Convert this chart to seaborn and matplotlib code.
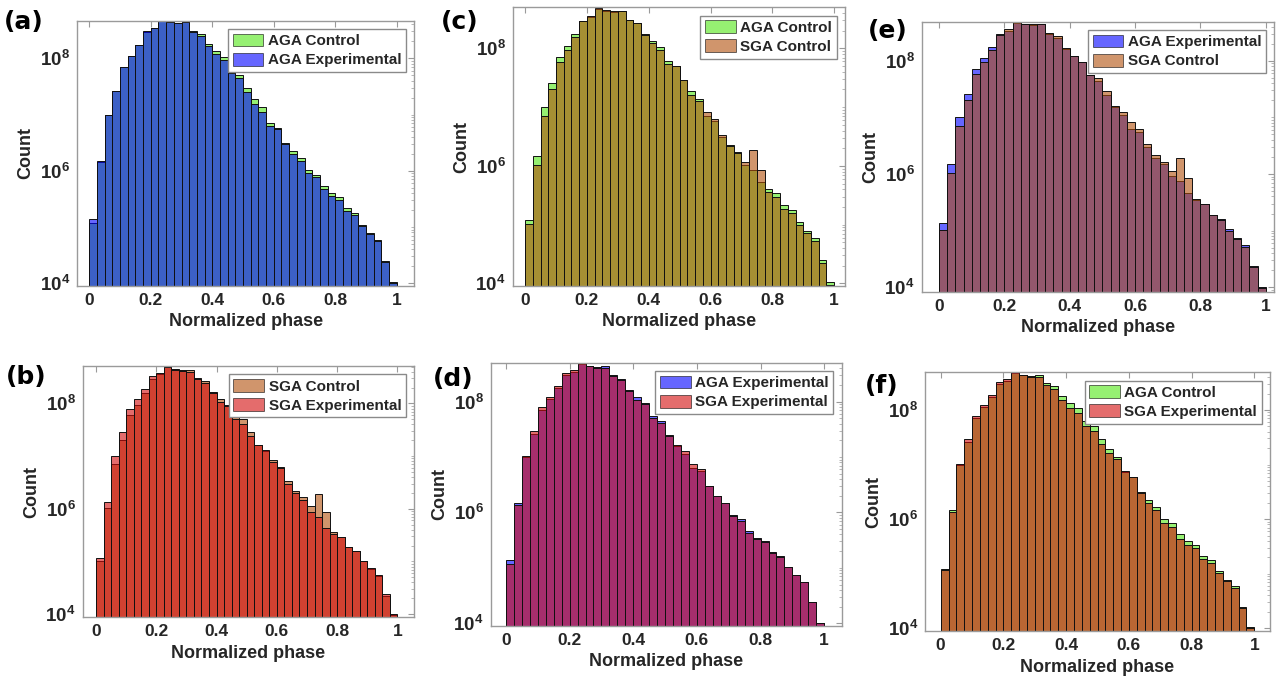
import numpy as np
import pandas as pd
import matplotlib
matplotlib.use("Agg")
import matplotlib.pyplot as plt
import matplotlib.ticker as mticker
from matplotlib.patches import Patch
import seaborn as sns

# ---------------- data ----------------
n_bins = 40                    # bins of width 0.025 over [0, 1]
bin_range = (0.0, 1.0)
x_ticks = [0, 0.2, 0.4, 0.6, 0.8, 1]
x_tick_labels = ["0", "0.2", "0.4", "0.6", "0.8", "1"]
y_ticks = [1e4, 1e6, 1e8]

aga_control = [1.2e5, 1.45e6, 1.0e7, 2.6e7, 7.1e7, 1.12e8, 1.74e8, 2.95e8, 3.4e8, 4.7e8,
               4.4e8, 4.2e8, 4.4e8, 3.1e8, 2.75e8, 1.78e8, 1.32e8, 1.07e8, 6.2e7, 5.0e7,
               2.95e7, 1.9e7, 1.35e7, 7.2e6, 5.8e6, 3.1e6, 2.25e6, 1.7e6, 1.02e6, 8.5e5,
               5.4e5, 4.0e5, 3.4e5, 2.15e5, 1.75e5, 1.1e5, 7.8e4, 5.9e4, 2.45e4, 1.05e4]

aga_experimental = [1.38e5, 1.5e6, 1.0e7, 2.6e7, 7.1e7, 1.12e8, 1.74e8, 3.0e8, 3.4e8, 4.7e8,
                    4.4e8, 4.2e8, 4.4e8, 2.95e8, 2.5e8, 1.62e8, 1.2e8, 9.5e7, 5.5e7, 4.4e7,
                    2.5e7, 1.55e7, 1.12e7, 6.3e6, 5.5e6, 2.95e6, 1.95e6, 1.48e6, 9.1e5, 7.6e5,
                    4.7e5, 3.5e5, 3.0e5, 1.9e5, 1.62e5, 1.05e5, 7.4e4, 5.6e4, 2.4e4, 1.02e4]

sga_control = [1.02e5, 1.05e6, 7.1e6, 2.0e7, 5.9e7, 9.5e7, 1.55e8, 2.9e8, 3.6e8, 4.9e8,
               4.5e8, 4.4e8, 4.4e8, 3.1e8, 2.7e8, 1.66e8, 1.23e8, 9.5e7, 5.5e7, 5.0e7,
               2.9e7, 1.62e7, 1.26e7, 8.3e6, 6.2e6, 3.4e6, 2.2e6, 1.66e6, 1.15e6, 1.9e6,
               8.5e5, 3.55e5, 2.9e5, 1.86e5, 1.55e5, 1.0e5, 7.1e4, 5.2e4, 2.25e4, 9.5e3]

sga_experimental = [1.15e5, 1.35e6, 1.02e7, 2.9e7, 7.8e7, 1.23e8, 1.9e8, 3.3e8, 3.7e8, 4.9e8,
                    4.3e8, 4.1e8, 4.0e8, 2.9e8, 2.4e8, 1.55e8, 1.07e8, 8.9e7, 5.0e7, 4.1e7,
                    2.4e7, 1.62e7, 1.29e7, 7.6e6, 6.0e6, 3.0e6, 2.0e6, 1.48e6, 8.5e5, 7.1e5,
                    4.3e5, 3.3e5, 2.9e5, 1.86e5, 1.58e5, 1.02e5, 7.4e4, 5.5e4, 2.4e4, 1.02e4]

series = {
    "AGA Control": aga_control,
    "AGA Experimental": aga_experimental,
    "SGA Control": sga_control,
    "SGA Experimental": sga_experimental,
}

# panel -> (bottom series, top series)
panels = [
    ("(a)", "AGA Control", "AGA Experimental"),
    ("(b)", "SGA Control", "SGA Experimental"),
    ("(c)", "AGA Control", "SGA Control"),
    ("(d)", "AGA Experimental", "SGA Experimental"),
    ("(e)", "AGA Experimental", "SGA Control"),
    ("(f)", "AGA Control", "SGA Experimental"),
]

# ---------------- styles / layout ----------------
colors = {
    "AGA Control": "#50E614",
    "AGA Experimental": "#0000FF",
    "SGA Control": "#B24E0A",
    "SGA Experimental": "#D20A0A",
}
ALPHA = 0.6
W, H = 1286, 685
# axes boxes in pixels: left, top, right, bottom
boxes = {
    "(a)": (77.3, 20.7, 414.3, 285.7),
    "(b)": (82.7, 366.0, 414.3, 617.3),
    "(c)": (512.7, 7.3, 845.0, 286.0),
    "(d)": (490.7, 362.7, 841.7, 625.7),
    "(e)": (921.7, 21.7, 1274.3, 291.7),
    "(f)": (925.0, 372.3, 1270.0, 631.0),
}
xlims = {
    "(a)": (-0.039, 1.057), "(b)": (-0.044, 1.056), "(c)": (-0.040, 1.035),
    "(d)": (-0.048, 1.055), "(e)": (-0.053, 1.026), "(f)": (-0.050, 1.050),
}
ylims = {
    "(a)": (3.957, 8.668), "(b)": (3.94, 8.71), "(c)": (3.955, 8.70),
    "(d)": (3.957, 8.70), "(e)": (3.92, 8.69), "(f)": (3.95, 8.69),
}
label_pos = {
    "(a)": (4, 10), "(b)": (6, 365), "(c)": (441, 10),
    "(d)": (433, 367), "(e)": (868, 19), "(f)": (865, 374),
}

sns.set_style("white")
plt.rcParams["font.family"] = ["Liberation Sans", "DejaVu Sans"]
plt.rcParams["font.weight"] = "bold"
plt.rcParams["axes.labelweight"] = "bold"
plt.rcParams["mathtext.fontset"] = "custom"
plt.rcParams["mathtext.bf"] = "Liberation Sans:bold"
plt.rcParams["mathtext.rm"] = "Liberation Sans:bold"
plt.rcParams["mathtext.it"] = "Liberation Sans:bold"

fig = plt.figure(figsize=(W / 100, H / 100), dpi=100)
fig.patch.set_facecolor("white")

edges = np.linspace(bin_range[0], bin_range[1], n_bins + 1)
centers = (edges[:-1] + edges[1:]) / 2
spine_col = "#9a9a9a"
text_col = "#262626"

for tag, s1, s2 in panels:
    l, t, r, b = boxes[tag]
    ax = fig.add_axes([l / W, 1 - b / H, (r - l) / W, (b - t) / H])
    for name in (s1, s2):
        df = pd.DataFrame({"phase": centers, "count": series[name]})
        sns.histplot(data=df, x="phase", weights="count", bins=n_bins,
                     binrange=bin_range, color=colors[name], alpha=ALPHA,
                     edgecolor="#111111", linewidth=0.7, ax=ax, stat="count")
    ax.set_yscale("log")
    ax.set_xlim(*xlims[tag])
    lo, hi = ylims[tag]
    ax.set_ylim(10 ** lo, 10 ** hi)
    ax.set_xticks(x_ticks)
    ax.set_xticklabels(x_tick_labels)
    ax.yaxis.set_major_locator(mticker.FixedLocator(y_ticks))
    ax.yaxis.set_major_formatter(mticker.FuncFormatter(
        lambda v, p: r"$\mathbf{10^{%d}}$" % int(round(np.log10(v)))))
    ax.yaxis.set_minor_locator(mticker.LogLocator(base=10, subs=np.arange(1, 10), numticks=50))
    ax.yaxis.set_minor_formatter(mticker.NullFormatter())
    ax.tick_params(which="both", direction="in", top=True, right=True,
                   color=spine_col, labelcolor=text_col, labelsize=12.5)
    ax.tick_params(axis="y", which="major", labelsize=13.5)
    ax.tick_params(which="major", length=4, width=0.8, pad=5)
    ax.tick_params(which="minor", length=2, width=0.5)
    ax.tick_params(axis="x", which="minor", top=False, bottom=False)
    for sp in ax.spines.values():
        sp.set_color(spine_col)
        sp.set_linewidth(1.0)
    ax.set_xlabel("Normalized phase", fontsize=13, color=text_col, labelpad=4)
    ax.set_ylabel("Count", fontsize=13, color=text_col, labelpad=4)
    handles = [Patch(facecolor=colors[n], alpha=ALPHA, edgecolor="#111111", linewidth=0.7)
               for n in (s1, s2)]
    leg = ax.legend(handles, [s1, s2], loc="upper right", fontsize=11,
                    frameon=True, fancybox=False, framealpha=1, edgecolor="#8a8a8a",
                    handlelength=2.0, handleheight=0.9, handletextpad=0.3,
                    labelspacing=0.3, borderpad=0.3, borderaxespad=0.55)
    leg.get_frame().set_linewidth(1.0)
    for txt in leg.get_texts():
        txt.set_color(text_col)
        txt.set_fontweight("bold")
    px, py = label_pos[tag]
    fig.text(px / W, 1 - py / H, tag, fontsize=18, fontweight="bold",
             family="DejaVu Sans", color="black", ha="left", va="top")

fig.savefig("out.png", dpi=100, facecolor="white")
